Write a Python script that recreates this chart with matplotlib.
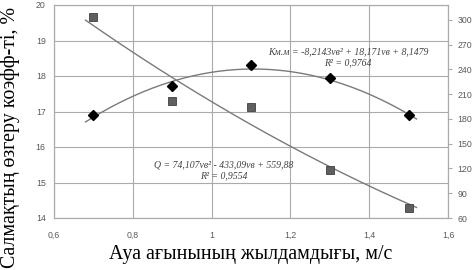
import numpy as np
import matplotlib
matplotlib.use("Agg")
import matplotlib.pyplot as plt
from matplotlib.ticker import FuncFormatter, MultipleLocator

# ---- data ----
speed = [0.7, 0.9, 1.1, 1.3, 1.5]
k_coef = [16.9, 17.72, 18.31, 17.94, 16.9]      # left axis, %
q_val = [303, 202, 194, 118, 72]                # right axis
k_fit = [-8.2143, 18.171, 8.1479]
q_fit = [74.107, -433.09, 559.88]
k_eq = "Kм.м = -8,2143vв² + 18,171vв + 8,1479"
k_r2 = "R² = 0,9764"
q_eq = "Q = 74,107vв² - 433,09vв + 559,88"
q_r2 = "R² = 0,9554"
xlabel = "Ауа ағынының жылдамдығы, м/с"
ylabel = "Салмақтың өзгеру коэфф-ті, %"

fig = plt.figure(figsize=(4.73, 2.70), dpi=100)
ax = fig.add_axes([54/473, 1-218/270, (448-54)/473, (218-5)/270])
ax2 = ax.twinx()

grid_c = "#ababab"
tick_c = "#595959"

ax.set_xlim(0.6, 1.6)
ax.set_ylim(14, 20)
ax2.set_ylim(60, 318)
ax.xaxis.set_major_locator(MultipleLocator(0.2))
ax.yaxis.set_major_locator(MultipleLocator(1))
ax2.set_yticks(np.arange(60, 301, 30))

def fmt(v, pos):
    s = ("%.1f" % v).rstrip("0").rstrip(".")
    return s.replace(".", ",")
ax.xaxis.set_major_formatter(FuncFormatter(fmt))

ax.grid(True, color=grid_c, linewidth=0.8)
for a in (ax, ax2):
    for s in a.spines.values():
        s.set_color(grid_c)
        s.set_linewidth(0.8)

ax.tick_params(axis="both", length=0, labelsize=6.3, labelcolor=tick_c, pad=6)
ax.tick_params(axis="x", pad=9)
ax2.tick_params(axis="y", length=3, color=grid_c, labelsize=6.3, labelcolor=tick_c, pad=4)
for lab in ax.get_xticklabels() + ax.get_yticklabels() + ax2.get_yticklabels():
    lab.set_family("Liberation Sans")

xs = np.linspace(0.68, 1.52, 200)
ax.plot(xs, np.polyval(k_fit, xs), color="#7a7a7a", linewidth=1.0, zorder=3)
ax.plot(speed, k_coef, linestyle="none", marker="D", markersize=4.8,
        color="black", zorder=4)
ax2.plot(xs, np.polyval(q_fit, xs), color="#7a7a7a", linewidth=1.0, zorder=3)
ax2.plot(speed, q_val, linestyle="none", marker="s", markersize=5.5,
         markerfacecolor="#5f5f5f", markeredgecolor="#404040", markeredgewidth=0.6,
         zorder=4)

tfont = dict(family="Liberation Serif", style="italic", fontsize=7, color="#404040",
             ha="center", va="center")
ax.text(1.346, 18.68, k_eq, **tfont)
ax.text(1.346, 18.37, k_r2, **tfont)
ax.text(1.031, 15.49, q_eq, **tfont)
ax.text(1.031, 15.18, q_r2, **tfont)

fig.text(251/473, 1-255/270, xlabel, family="Liberation Serif", fontsize=14.3,
         ha="center", va="center")
fig.text(10/473, 1-137/270, ylabel, family="Liberation Serif", fontsize=14.3,
         rotation=90, ha="center", va="center")

fig.savefig("out.png", dpi=100)
